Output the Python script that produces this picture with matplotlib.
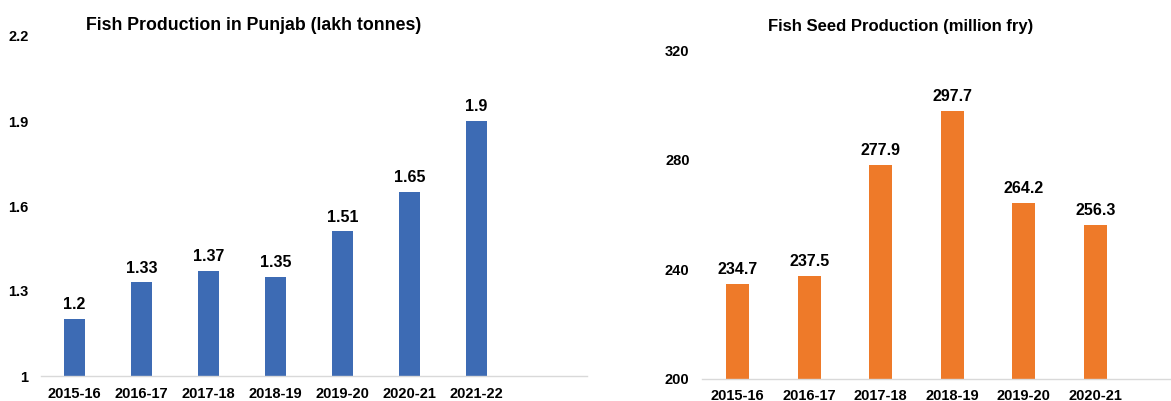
import matplotlib
matplotlib.use("Agg")
import matplotlib.pyplot as plt

plt.rcParams['font.family'] = ['Liberation Sans', 'DejaVu Sans']

years_left = ["2015-16", "2016-17", "2017-18", "2018-19", "2019-20", "2020-21", "2021-22"]
fish_production = [1.2, 1.33, 1.37, 1.35, 1.51, 1.65, 1.9]
left_ticks = [1, 1.3, 1.6, 1.9, 2.2]
left_ticklabels = ["1", "1.3", "1.6", "1.9", "2.2"]

years_right = ["2015-16", "2016-17", "2017-18", "2018-19", "2019-20", "2020-21"]
seed_production = [234.7, 237.5, 277.9, 297.7, 264.2, 256.3]
right_ticks = [200, 240, 280, 320]

W, H = 1171, 401
fig = plt.figure(figsize=(W / 100, H / 100), dpi=100)

def px_axes(x0, x1, ytop, ybot):
    return fig.add_axes([x0 / W, (H - ybot) / H, (x1 - x0) / W, (ybot - ytop) / H])

blue = "#3d6bb4"
orange = "#ee7a29"
grid_c = "#d9d9d9"

def style(ax):
    for s in ["top", "right", "left"]:
        ax.spines[s].set_visible(False)
    ax.spines["bottom"].set_color(grid_c)
    ax.spines["bottom"].set_linewidth(1.0)
    ax.tick_params(axis="both", length=0, labelsize=10.5, colors="black")
    for lab in ax.get_xticklabels() + ax.get_yticklabels():
        lab.set_fontweight("bold")

# Left panel
ax1 = px_axes(41, 587, 36, 376)
x1 = list(range(len(years_left)))
ax1.bar(x1, fish_production, width=0.31, color=blue)
ax1.set_xlim(-0.5, 7.65)
ax1.set_ylim(1, 2.2)
ax1.set_yticks(left_ticks)
ax1.set_yticklabels(left_ticklabels)
ax1.set_xticks(x1)
ax1.set_xticklabels(years_left)
ax1.tick_params(axis="x", pad=8)
ax1.tick_params(axis="y", pad=9)
for xi, v in zip(x1, fish_production):
    ax1.annotate(f"{v:g}", (xi, v), xytext=(0, 5), textcoords="offset points",
                 ha="center", va="bottom", fontsize=11.5, fontweight="bold")
style(ax1)

# Right panel
ax2 = px_axes(702, 1171 + 0, 50, 379)
x2 = list(range(len(years_right)))
ax2.bar(x2, seed_production, width=0.32, color=orange)
ax2.set_xlim(-0.5, 6.06)
ax2.set_ylim(200, 320)
ax2.set_yticks(right_ticks)
ax2.set_xticks(x2)
ax2.set_xticklabels(years_right)
ax2.tick_params(axis="x", pad=7)
ax2.tick_params(axis="y", pad=9)
for xi, v in zip(x2, seed_production):
    ax2.annotate(f"{v:.1f}", (xi, v), xytext=(0, 5), textcoords="offset points",
                 ha="center", va="bottom", fontsize=11.5, fontweight="bold")
style(ax2)

fig.text(254 / W, 1 - 26 / H, "Fish Production in Punjab (lakh tonnes)",
         ha="center", va="center", fontsize=12.8, fontweight="bold")
fig.text(901 / W, 1 - 27 / H, "Fish Seed Production (million fry)",
         ha="center", va="center", fontsize=12, fontweight="bold")

fig.savefig("out.png", dpi=100)
